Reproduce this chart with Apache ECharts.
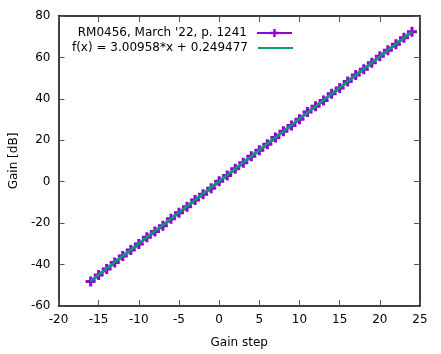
<!DOCTYPE html>
<html>
<head>
<meta charset="utf-8">
<script src="https://cdn.jsdelivr.net/npm/echarts@6/dist/echarts.min.js"></script>
<style>
  html, body { margin: 0; padding: 0; background: #fff; }
  #main { width: 441px; height: 354px; }
</style>
</head>
<body>
<div id="main"></div>
<script>
// measured gain steps and gains
var gainStep = [-16, -15, -14, -13, -12, -11, -10, -9, -8, -7, -6, -5, -4, -3, -2, -1, 0,
  1, 2, 3, 4, 5, 6, 7, 8, 9, 10, 11, 12, 13, 14, 15, 16, 17, 18, 19, 20, 21, 22, 23, 24];
var gainDb = [-48.2, -45.0, -42.1, -39.0, -35.9, -33.0, -30.1, -26.8, -24.0, -21.2, -17.9,
  -15.0, -12.1, -8.8, -6.0, -3.1, 0.2, 3.0, 6.2, 9.1, 12.3, 15.2, 18.1, 21.3, 24.4, 27.1,
  30.2, 33.6, 36.4, 39.2, 42.5, 45.2, 48.4, 51.5, 54.3, 57.4, 60.6, 63.5, 66.4, 69.5, 72.4];
// fitted line end points
var fitX = [-16, 24];
var fitY = [-47.90, 72.48];

var dataName = "RM0456, March '22, p. 1241";
var fitName = 'f(x) = 3.00958*x + 0.249477';
var plus = 'path://M3.5,0H6.5V3.5H10V6.5H6.5V10H3.5V6.5H0V3.5H3.5Z';
var font = 'DejaVu Sans';

var chart = echarts.init(document.getElementById('main'));
var tick = { show: true, inside: true, length: 6, lineStyle: { color: '#555', width: 1 } };
var noSplit = { show: false };
var legendText = { fontFamily: font, fontSize: 12, color: '#000', padding: [0, 5, 0, 0] };

chart.setOption({
  backgroundColor: '#fff',
  animation: false,
  textStyle: { fontFamily: font },
  grid: { left: 55, right: 21, top: 16, bottom: 48 },
  legend: [{
    right: 143, top: 22, align: 'right', orient: 'vertical',
    itemWidth: 35, itemHeight: 10,
    textStyle: legendText,
    data: [dataName]
  }, {
    right: 143, top: 37, align: 'right', orient: 'vertical',
    itemWidth: 35, itemHeight: 2,
    textStyle: legendText,
    data: [{ name: fitName, icon: 'rect' }]
  }],
  xAxis: [{
    type: 'value', min: -20, max: 25, interval: 5,
    name: 'Gain step', nameLocation: 'middle', nameGap: 31,
    nameTextStyle: { fontFamily: font, fontSize: 12, color: '#000' },
    axisLine: { show: true, onZero: false, lineStyle: { color: '#000', width: 1.5 } },
    axisTick: tick,
    axisLabel: { fontFamily: font, fontSize: 12, color: '#000', margin: 8 },
    splitLine: noSplit
  }, {
    type: 'value', min: -20, max: 25, interval: 5, position: 'top',
    axisLine: { show: true, onZero: false, lineStyle: { color: '#000', width: 1.5 } },
    axisTick: tick, axisLabel: { show: false }, splitLine: noSplit
  }],
  yAxis: [{
    type: 'value', min: -60, max: 80, interval: 20,
    name: 'Gain [dB]', nameLocation: 'middle', nameGap: 35,
    nameTextStyle: { fontFamily: font, fontSize: 12, color: '#000' },
    axisLine: { show: true, onZero: false, lineStyle: { color: '#000', width: 1.5 } },
    axisTick: tick,
    axisLabel: { fontFamily: font, fontSize: 12, color: '#000', margin: 8 },
    splitLine: noSplit
  }, {
    type: 'value', min: -60, max: 80, interval: 20, position: 'right',
    axisLine: { show: true, onZero: false, lineStyle: { color: '#000', width: 1.5 } },
    axisTick: tick, axisLabel: { show: false }, splitLine: noSplit
  }],
  series: [{
    name: dataName,
    type: 'line',
    data: gainStep.map(function (x, i) { return [x, gainDb[i]]; }),
    symbol: plus, symbolSize: 10,
    showAllSymbol: true,
    lineStyle: { color: '#9400d3', width: 3 },
    itemStyle: { color: '#9400d3' },
    z: 2
  }, {
    name: fitName,
    type: 'line',
    data: fitX.map(function (x, i) { return [x, fitY[i]]; }),
    symbol: 'none',
    lineStyle: { color: '#009e73', width: 2.5 },
    itemStyle: { color: '#009e73' },
    z: 3
  }]
});
</script>
</body>
</html>
